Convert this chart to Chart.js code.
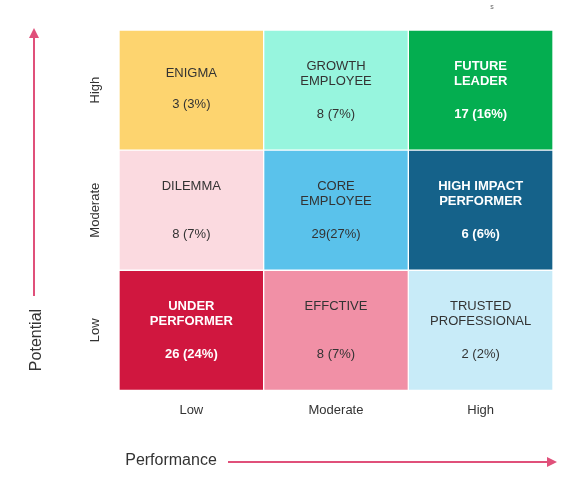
<!DOCTYPE html>
<html><head><meta charset="utf-8">
<script src="https://cdn.jsdelivr.net/npm/chart.js@4"></script>
<style>html,body{margin:0;background:#fff}#w{width:574px;height:496px}</style>
</head><body><div id="w"><canvas id="c"></canvas></div>
<script>
const performance = ['Low','Moderate','High'];
const potential = ['Low','Moderate','High'];
// rows bottom to top, columns left to right
const titles = [
  [['UNDER','PERFORMER'],['EFFCTIVE'],['TRUSTED','PROFESSIONAL']],
  [['DILEMMA'],['CORE','EMPLOYEE'],['HIGH IMPACT','PERFORMER']],
  [['ENIGMA'],['GROWTH','EMPLOYEE'],['FUTURE','LEADER']]
];
const counts = [
  ['26 (24%)','8 (7%)','2 (2%)'],
  ['8 (7%)','29(27%)','6 (6%)'],
  ['3 (3%)','8 (7%)','17 (16%)']
];
const colors = [
  ['#D0173F','#F190A6','#C8EBF8'],
  ['#FBDAE0','#5AC2EB','#15628A'],
  ['#FDD46F','#97F5DE','#04AE50']
];
const bold = [[true,false,false],[false,false,true],[false,false,true]];
const pink = '#E0507A';
const cellText = {
  id:'cellText',
  afterDatasetsDraw(ch){
    const ctx=ch.ctx, x=ch.scales.x, y=ch.scales.y, a=ch.chartArea;
    ctx.save(); ctx.textAlign='center'; ctx.textBaseline='middle';
    for(let r=0;r<3;r++)for(let c=0;c<3;c++){
      const cx=x.getPixelForValue(c), cy=y.getPixelForValue(r+0.5);
      const b=bold[r][c];
      ctx.fillStyle=b?'#fff':'#333';
      ctx.font=(b?'bold ':'')+'13px "Liberation Sans", Arial';
      const t=titles[r][c];
      const off = t.length===1 && r===2 ? -17 : -24;
      t.forEach((s,i)=>ctx.fillText(s,cx,cy+off+i*15));
      ctx.fillText(counts[r][c],cx,cy+(t.length===1&&r===2?14:24));
    }
    // y labels
    ctx.fillStyle='#333'; ctx.font='13px "Liberation Sans", Arial';
    for(let r=0;r<3;r++){
      ctx.save(); ctx.translate(95,y.getPixelForValue(r+0.5)); ctx.rotate(-Math.PI/2);
      ctx.fillText(potential[r],0,0); ctx.restore();
    }
    ctx.font='16px "Liberation Sans", Arial';
    ctx.save(); ctx.translate(37,340); ctx.rotate(-Math.PI/2); ctx.fillText('Potential',0,0); ctx.restore();
    ctx.fillText('Performance',171,461);
    ctx.font='7px "Liberation Sans", Arial'; ctx.fillStyle='#666'; ctx.fillText('s',492,7);
    // arrows
    ctx.strokeStyle=pink; ctx.fillStyle=pink; ctx.lineWidth=2;
    ctx.beginPath(); ctx.moveTo(34,296); ctx.lineTo(34,36); ctx.stroke();
    ctx.beginPath(); ctx.moveTo(34,28); ctx.lineTo(29,38); ctx.lineTo(39,38); ctx.fill();
    ctx.beginPath(); ctx.moveTo(228,462); ctx.lineTo(550,462); ctx.stroke();
    ctx.beginPath(); ctx.moveTo(557,462); ctx.lineTo(547,457); ctx.lineTo(547,467); ctx.fill();
    ctx.restore();
  }
};
new Chart(document.getElementById('c'),{
  type:'bar',
  data:{labels:performance,datasets:[0,1,2].map(r=>({data:[1,1,1],backgroundColor:colors[r],borderColor:'#fff',borderWidth:1,borderSkipped:false}))},
  options:{responsive:true,maintainAspectRatio:false,animation:false,
    layout:{padding:{left:119,right:21,top:30,bottom:74}},
    plugins:{legend:{display:false},tooltip:{enabled:false}},
    datasets:{bar:{barPercentage:1,categoryPercentage:1}},
    scales:{
      x:{stacked:true,grid:{display:false},border:{display:false},ticks:{color:'#333',font:{size:13,family:'"Liberation Sans", Arial'},padding:4}},
      y:{stacked:true,min:0,max:3,display:false}
    }},
  plugins:[cellText]
});
</script></body></html>
